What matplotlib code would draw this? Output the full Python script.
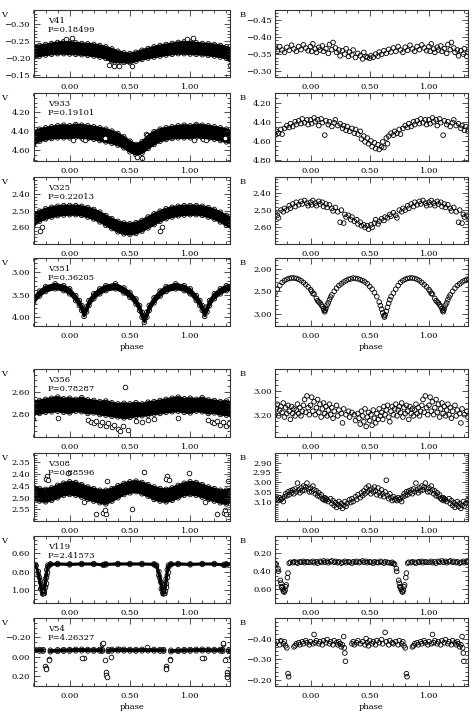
import numpy as np
import matplotlib
matplotlib.use("Agg")
import matplotlib.pyplot as plt
from matplotlib.ticker import FixedLocator, MultipleLocator, AutoMinorLocator, FuncFormatter

plt.rcParams["font.family"] = "DejaVu Serif"
plt.rcParams["font.size"] = 6

# ---------------------------------------------------------------
# V light curves: dense bands, given as upper/lower envelope of the
# points over one cycle (phase 0..1), plus the stray points
# ---------------------------------------------------------------
grid = [0.00, 0.05, 0.10, 0.15, 0.20, 0.25, 0.30, 0.35, 0.40, 0.45,
        0.50, 0.55, 0.60, 0.65, 0.70, 0.75, 0.80, 0.85, 0.90, 0.95]

v41_top = [-0.246, -0.244, -0.242, -0.241, -0.239, -0.236, -0.232, -0.226, -0.219, -0.214,
           -0.212, -0.216, -0.222, -0.227, -0.232, -0.236, -0.239, -0.242, -0.245, -0.247]
v41_bot = [-0.211, -0.210, -0.209, -0.207, -0.205, -0.202, -0.198, -0.188, -0.187, -0.186,
           -0.185, -0.190, -0.195, -0.199, -0.202, -0.205, -0.208, -0.210, -0.212, -0.212]
v41_xph = [0.02, 0.33, 0.37, 0.41, 0.52, 0.97]
v41_xmag = [-0.257, -0.177, -0.175, -0.176, -0.176, -0.256]

v933_top = [4.343, 4.329, 4.336, 4.343, 4.353, 4.364, 4.378, 4.398, 4.423, 4.458,
            4.503, 4.538, 4.510, 4.447, 4.405, 4.378, 4.364, 4.353, 4.343, 4.336]
v933_bot = [4.468, 4.461, 4.468, 4.475, 4.482, 4.496, 4.510, 4.524, 4.544, 4.572,
            4.614, 4.642, 4.628, 4.579, 4.537, 4.503, 4.485, 4.475, 4.468, 4.468]
v933_xph = [0.11, 0.13, 0.29, 0.56, 0.60, 0.63, 0.64, 0.03]
v933_xmag = [4.48, 4.49, 4.47, 4.67, 4.68, 4.43, 4.44, 4.49]

v325_top = [2.471, 2.471, 2.475, 2.483, 2.494, 2.510, 2.530, 2.549, 2.565, 2.575,
            2.579, 2.573, 2.559, 2.539, 2.520, 2.504, 2.490, 2.481, 2.475, 2.471]
v325_bot = [2.525, 2.525, 2.529, 2.539, 2.551, 2.568, 2.588, 2.608, 2.627, 2.639,
            2.643, 2.637, 2.623, 2.604, 2.584, 2.564, 2.549, 2.539, 2.531, 2.527]
v325_xph = [0.75, 0.77]
v325_xmag = [2.62, 2.60]

v351_ph = [0.00, 0.05, 0.08, 0.10, 0.12, 0.14, 0.16, 0.20, 0.25, 0.30, 0.38, 0.45,
           0.50, 0.55, 0.58, 0.60, 0.62, 0.64, 0.66, 0.70, 0.75, 0.80, 0.88, 0.95]
v351_top = [3.365, 3.515, 3.625, 3.735, 3.865, 3.765, 3.625, 3.475, 3.365, 3.295, 3.255, 3.345,
            3.445, 3.590, 3.735, 3.885, 3.995, 3.885, 3.735, 3.565, 3.415, 3.315, 3.255, 3.295]
v351_bot = [3.475, 3.625, 3.735, 3.845, 3.975, 3.875, 3.735, 3.585, 3.475, 3.405, 3.365, 3.455,
            3.555, 3.700, 3.845, 3.995, 4.105, 3.995, 3.845, 3.675, 3.525, 3.425, 3.365, 3.405]
v351_xph = []
v351_xmag = []

v356_top = [2.658, 2.668, 2.653, 2.673, 2.678, 2.688, 2.683, 2.698, 2.708, 2.703,
            2.708, 2.698, 2.708, 2.693, 2.688, 2.678, 2.668, 2.658, 2.648, 2.663]
v356_bot = [2.787, 2.772, 2.777, 2.792, 2.787, 2.802, 2.807, 2.817, 2.822, 2.832,
            2.827, 2.817, 2.812, 2.807, 2.797, 2.792, 2.782, 2.777, 2.772, 2.782]
v356_xph = [0.15, 0.18, 0.20, 0.22, 0.25, 0.27, 0.30, 0.32, 0.35, 0.37,
            0.40, 0.42, 0.44, 0.46, 0.48, 0.55, 0.60, 0.65, 0.70, 0.90]
v356_xmag = [2.85, 2.87, 2.88, 2.86, 2.89, 2.87, 2.90, 2.88, 2.91, 2.89,
             2.93, 2.95, 2.90, 2.555, 2.94, 2.86, 2.87, 2.85, 2.84, 2.83]

v308_top = [2.433, 2.436, 2.445, 2.455, 2.462, 2.469, 2.469, 2.462, 2.450, 2.440,
            2.433, 2.430, 2.436, 2.445, 2.455, 2.462, 2.465, 2.459, 2.448, 2.439]
v308_bot = [2.487, 2.490, 2.498, 2.508, 2.515, 2.522, 2.527, 2.515, 2.501, 2.487,
            2.480, 2.475, 2.484, 2.494, 2.508, 2.515, 2.518, 2.512, 2.501, 2.490]
v308_xph = [0.99, 0.81, 0.80, 0.82, 0.62, 0.52, 0.22, 0.28, 0.30, 0.31, 0.29, 0.12]
v308_xmag = [2.396, 2.41, 2.42, 2.425, 2.393, 2.55, 2.57, 2.565, 2.57, 2.43, 2.555, 2.52]

v119_ph = [0.00, 0.10, 0.20, 0.28, 0.30, 0.40, 0.50, 0.60, 0.70, 0.72,
           0.74, 0.76, 0.775, 0.79, 0.80, 0.81, 0.82, 0.84, 0.90]
v119_top = [0.716, 0.712, 0.712, 0.722, 0.716, 0.712, 0.712, 0.712, 0.716, 0.730,
            0.800, 0.920, 1.000, 0.970, 0.880, 0.780, 0.730, 0.716, 0.712]
v119_bot = [0.726, 0.722, 0.722, 0.732, 0.726, 0.722, 0.722, 0.722, 0.726, 0.740,
            0.840, 0.990, 1.045, 1.040, 0.960, 0.840, 0.750, 0.726, 0.722]
v119_xph = [0.745, 0.752, 0.762, 0.768, 0.775, 0.782, 0.788, 0.795, 0.800, 0.806, 0.812]
v119_xmag = [0.86, 0.90, 0.97, 1.01, 1.04, 1.03, 1.00, 0.97, 0.93, 0.86, 0.80]

v54_ph = [0.00, 0.05, 0.10, 0.15, 0.20, 0.25, 0.27, 0.29, 0.32, 0.35, 0.40, 0.45,
          0.50, 0.55, 0.60, 0.65, 0.70, 0.75, 0.78, 0.81, 0.84, 0.90, 0.95]
v54_top = [-0.075, -0.077, -0.078, -0.076, -0.075, -0.076, -0.074, np.nan, -0.072, -0.076, -0.078, -0.077,
           -0.076, -0.075, -0.077, -0.078, -0.076, -0.075, -0.074, np.nan, -0.068, -0.072, -0.074]
v54_bot = [-0.060, -0.062, -0.063, -0.061, -0.060, -0.061, -0.059, np.nan, -0.057, -0.061, -0.063, -0.062,
           -0.061, -0.060, -0.062, -0.063, -0.061, -0.060, -0.059, np.nan, -0.053, -0.057, -0.059]
v54_xph = [0.797, 0.800, 0.803, 0.830, 0.832, 0.270, 0.275, 0.290, 0.303, 0.305,
           0.307, 0.117, 0.100, 0.339, 0.640, 0.410]
v54_xmag = [0.09, 0.11, 0.12, 0.02, 0.03, -0.13, -0.145, 0.028, 0.16, 0.185,
            0.205, 0.007, 0.007, 0.0, -0.097, -0.085]

# ---------------------------------------------------------------
# B light curves: individual points over one cycle
# ---------------------------------------------------------------
b41_ph = [0.00, 0.01, 0.02, 0.04, 0.05, 0.07, 0.08, 0.10, 0.11, 0.13, 0.15, 0.16, 0.18, 0.19,
          0.21, 0.22, 0.24, 0.25, 0.27, 0.29, 0.30, 0.32, 0.33, 0.35, 0.36, 0.38, 0.40, 0.42,
          0.44, 0.45, 0.47, 0.48, 0.50, 0.51, 0.53, 0.55, 0.57, 0.58, 0.60, 0.62, 0.64, 0.66,
          0.68, 0.70, 0.72, 0.74, 0.76, 0.78, 0.80, 0.82, 0.84, 0.86, 0.88, 0.90, 0.92, 0.94,
          0.96, 0.98]
b41_mag = [-0.372, -0.358, -0.380, -0.365, -0.355, -0.370, -0.362, -0.374, -0.358, -0.366,
           -0.352, -0.378, -0.363, -0.384, -0.368, -0.355, -0.362, -0.345, -0.360, -0.350,
           -0.366, -0.343, -0.356, -0.348, -0.362, -0.340, -0.352, -0.345, -0.336, -0.355,
           -0.343, -0.340, -0.338, -0.345, -0.341, -0.350, -0.344, -0.356, -0.349, -0.360,
           -0.352, -0.364, -0.356, -0.368, -0.358, -0.372, -0.362, -0.355, -0.370, -0.361,
           -0.376, -0.365, -0.358, -0.372, -0.363, -0.377, -0.368, -0.360]

b933_ph = [0.00, 0.01, 0.03, 0.04, 0.06, 0.07, 0.09, 0.10, 0.12, 0.13, 0.15, 0.16, 0.18, 0.20,
           0.21, 0.23, 0.25, 0.27, 0.28, 0.30, 0.31, 0.33, 0.35, 0.37, 0.38, 0.40, 0.42, 0.43,
           0.45, 0.46, 0.48, 0.49, 0.51, 0.52, 0.54, 0.55, 0.57, 0.58, 0.60, 0.61, 0.62, 0.64,
           0.65, 0.66, 0.68, 0.70, 0.71, 0.73, 0.75, 0.76, 0.78, 0.80, 0.82, 0.83, 0.85, 0.87,
           0.88, 0.90, 0.92, 0.93, 0.95, 0.97, 0.98]
b933_mag = [4.38, 4.42, 4.36, 4.40, 4.38, 4.44, 4.37, 4.41, 4.54, 4.39, 4.43, 4.40, 4.45, 4.41,
            4.38, 4.44, 4.42, 4.47, 4.44, 4.49, 4.45, 4.50, 4.47, 4.52, 4.48, 4.53, 4.50, 4.58,
            4.55, 4.61, 4.57, 4.63, 4.60, 4.66, 4.62, 4.68, 4.64, 4.69, 4.66, 4.61, 4.67, 4.57,
            4.63, 4.55, 4.52, 4.54, 4.50, 4.52, 4.48, 4.53, 4.47, 4.44, 4.46, 4.42, 4.45, 4.40,
            4.43, 4.39, 4.42, 4.37, 4.41, 4.38, 4.43]

b325_ph = [0.00, 0.01, 0.02, 0.04, 0.05, 0.07, 0.08, 0.10, 0.11, 0.13, 0.14, 0.16, 0.18, 0.19,
           0.21, 0.23, 0.25, 0.26, 0.28, 0.29, 0.30, 0.32, 0.34, 0.35, 0.37, 0.39, 0.40, 0.42,
           0.43, 0.45, 0.46, 0.48, 0.49, 0.51, 0.52, 0.54, 0.55, 0.57, 0.58, 0.60, 0.62, 0.63,
           0.65, 0.67, 0.68, 0.70, 0.72, 0.73, 0.75, 0.77, 0.78, 0.80, 0.82, 0.83, 0.85, 0.87,
           0.88, 0.90, 0.92, 0.93, 0.95, 0.97, 0.98]
b325_mag = [2.455, 2.470, 2.445, 2.460, 2.475, 2.450, 2.465, 2.455, 2.480, 2.465, 2.485, 2.470,
            2.490, 2.505, 2.485, 2.510, 2.570, 2.500, 2.575, 2.525, 2.540, 2.530, 2.555, 2.540,
            2.565, 2.555, 2.580, 2.570, 2.590, 2.585, 2.600, 2.590, 2.610, 2.585, 2.600, 2.575,
            2.555, 2.580, 2.565, 2.550, 2.560, 2.540, 2.545, 2.525, 2.535, 2.515, 2.530, 2.545,
            2.500, 2.510, 2.490, 2.500, 2.475, 2.490, 2.465, 2.480, 2.455, 2.470, 2.450, 2.465,
            2.445, 2.460, 2.475]

b351_ph = [0.00, 0.01, 0.02, 0.03, 0.05, 0.06, 0.07, 0.08, 0.09, 0.10, 0.11, 0.115, 0.12, 0.125,
           0.13, 0.14, 0.15, 0.16, 0.17, 0.18, 0.20, 0.22, 0.24, 0.26, 0.28, 0.30, 0.32, 0.34,
           0.36, 0.38, 0.40, 0.42, 0.44, 0.46, 0.48, 0.50, 0.52, 0.54, 0.56, 0.58, 0.59, 0.60,
           0.61, 0.62, 0.625, 0.63, 0.64, 0.65, 0.66, 0.67, 0.68, 0.70, 0.72, 0.74, 0.76, 0.78,
           0.80, 0.82, 0.84, 0.86, 0.88, 0.90, 0.92, 0.94, 0.96, 0.98]
b351_mag = [2.46, 2.50, 2.55, 2.56, 2.66, 2.71, 2.74, 2.76, 2.80, 2.84, 2.89, 2.93, 2.96, 2.92,
            2.88, 2.81, 2.76, 2.69, 2.63, 2.58, 2.50, 2.43, 2.37, 2.33, 2.29, 2.26, 2.23, 2.22,
            2.20, 2.21, 2.22, 2.24, 2.26, 2.29, 2.33, 2.39, 2.45, 2.53, 2.62, 2.74, 2.82, 2.90,
            2.98, 3.05, 3.08, 3.03, 2.95, 2.86, 2.77, 2.69, 2.62, 2.54, 2.45, 2.37, 2.30, 2.26,
            2.23, 2.21, 2.20, 2.20, 2.21, 2.23, 2.26, 2.30, 2.35, 2.40]

b356_ph = [0.00, 0.01, 0.02, 0.03, 0.04, 0.05, 0.06, 0.07, 0.08, 0.09, 0.10, 0.11, 0.12, 0.13,
           0.14, 0.15, 0.16, 0.17, 0.18, 0.19, 0.20, 0.22, 0.23, 0.24, 0.26, 0.27, 0.28, 0.30,
           0.32, 0.33, 0.35, 0.37, 0.38, 0.40, 0.41, 0.42, 0.43, 0.44, 0.45, 0.46, 0.47, 0.48,
           0.49, 0.50, 0.51, 0.52, 0.53, 0.54, 0.55, 0.56, 0.57, 0.58, 0.59, 0.60, 0.61, 0.62,
           0.63, 0.64, 0.65, 0.66, 0.67, 0.68, 0.69, 0.70, 0.71, 0.72, 0.73, 0.74, 0.75, 0.76,
           0.77, 0.78, 0.79, 0.80, 0.81, 0.82, 0.83, 0.84, 0.85, 0.86, 0.87, 0.88, 0.89, 0.90,
           0.91, 0.92, 0.93, 0.94, 0.95, 0.96, 0.97, 0.98, 0.99]
b356_mag = [3.12, 3.05, 3.17, 3.09, 3.20, 3.14, 3.07, 3.18, 3.11, 3.22, 3.15, 3.10, 3.19, 3.13,
            3.21, 3.16, 3.11, 3.20, 3.14, 3.23, 3.17, 3.12, 3.21, 3.16, 3.19, 3.27, 3.15, 3.20,
            3.17, 3.22, 3.18, 3.20, 3.25, 3.19, 3.23, 3.28, 3.17, 3.21, 3.26, 3.15, 3.30, 3.22,
            3.18, 3.25, 3.20, 3.29, 3.16, 3.23, 3.27, 3.19, 3.24, 3.15, 3.21, 3.18, 3.24, 3.13,
            3.20, 3.16, 3.12, 3.22, 3.26, 3.17, 3.13, 3.20, 3.15, 3.11, 3.21, 3.16, 3.13, 3.18,
            3.10, 3.22, 3.14, 3.19, 3.12, 3.17, 3.24, 3.13, 3.19, 3.15, 3.21, 3.16, 3.11, 3.19,
            3.14, 3.21, 3.17, 3.12, 3.07, 3.18, 3.04, 3.14, 3.20]

b308_ph = [0.00, 0.01, 0.02, 0.03, 0.04, 0.05, 0.06, 0.07, 0.08, 0.09, 0.10, 0.11, 0.12, 0.125,
           0.13, 0.14, 0.15, 0.17, 0.18, 0.19, 0.20, 0.21, 0.22, 0.23, 0.24, 0.25, 0.26, 0.27,
           0.28, 0.29, 0.30, 0.31, 0.33, 0.34, 0.35, 0.36, 0.38, 0.39, 0.40, 0.42, 0.43, 0.44,
           0.45, 0.46, 0.47, 0.48, 0.49, 0.50, 0.51, 0.52, 0.53, 0.54, 0.55, 0.56, 0.57, 0.58,
           0.59, 0.60, 0.61, 0.62, 0.63, 0.64, 0.65, 0.66, 0.67, 0.68, 0.69, 0.70, 0.71, 0.72,
           0.73, 0.74, 0.75, 0.76, 0.77, 0.78, 0.79, 0.80, 0.81, 0.82, 0.83, 0.84, 0.85, 0.86,
           0.87, 0.88, 0.89, 0.90, 0.91, 0.92, 0.93, 0.94, 0.95, 0.96, 0.97, 0.98, 0.99]
b308_mag = [3.030, 3.050, 3.020, 3.040, 3.060, 3.045, 3.070, 3.055, 3.075, 3.065, 3.085, 3.090,
            3.080, 3.095, 3.085, 3.090, 3.100, 3.085, 3.110, 3.095, 3.120, 3.105, 3.130, 3.115,
            3.100, 3.125, 3.110, 3.135, 3.120, 3.100, 3.125, 3.110, 3.090, 3.105, 3.085, 3.100,
            3.075, 3.090, 3.065, 3.080, 3.055, 3.070, 3.045, 3.060, 3.030, 3.050, 3.020, 3.040,
            3.060, 3.035, 3.050, 3.025, 3.045, 3.065, 3.030, 3.055, 3.070, 3.040, 3.060, 3.075,
            3.050, 2.990, 3.070, 3.085, 3.060, 3.080, 3.095, 3.075, 3.090, 3.085, 3.095, 3.080,
            3.090, 3.085, 3.100, 3.075, 3.060, 3.070, 3.050, 3.065, 3.045, 3.055, 3.040, 3.060,
            3.035, 3.050, 3.005, 3.040, 3.055, 3.030, 3.045, 3.020, 3.040, 3.025, 3.005, 3.035,
            3.050]

b119_ph = [0.00, 0.02, 0.03, 0.05, 0.06, 0.08, 0.09, 0.11, 0.12, 0.14, 0.15, 0.17, 0.18, 0.20,
           0.21, 0.23, 0.24, 0.26, 0.27, 0.29, 0.30, 0.32, 0.33, 0.35, 0.36, 0.38, 0.39, 0.41,
           0.42, 0.44, 0.45, 0.47, 0.48, 0.50, 0.51, 0.53, 0.54, 0.56, 0.57, 0.59, 0.60, 0.62,
           0.63, 0.65, 0.66, 0.68, 0.69, 0.70, 0.71, 0.725, 0.728, 0.745, 0.750, 0.755, 0.760,
           0.765, 0.772, 0.778, 0.785, 0.790, 0.795, 0.805, 0.810, 0.82, 0.83, 0.85, 0.86, 0.88,
           0.89, 0.91, 0.92, 0.94, 0.95, 0.97, 0.98]
b119_mag = [0.300, 0.290, 0.305, 0.295, 0.310, 0.290, 0.300, 0.285, 0.300, 0.290, 0.305, 0.295,
            0.285, 0.300, 0.290, 0.305, 0.295, 0.310, 0.300, 0.290, 0.305, 0.295, 0.300, 0.310,
            0.295, 0.300, 0.290, 0.305, 0.295, 0.285, 0.300, 0.290, 0.305, 0.295, 0.300, 0.310,
            0.295, 0.300, 0.305, 0.290, 0.300, 0.310, 0.295, 0.300, 0.305, 0.310, 0.300, 0.315,
            0.320, 0.370, 0.400, 0.500, 0.530, 0.570, 0.580, 0.600, 0.620, 0.630, 0.610, 0.570,
            0.550, 0.470, 0.420, 0.310, 0.300, 0.305, 0.295, 0.300, 0.310, 0.295, 0.300, 0.290,
            0.305, 0.295, 0.300]

b54_ph = [0.00, 0.02, 0.03, 0.04, 0.05, 0.07, 0.08, 0.10, 0.11, 0.13, 0.14, 0.16, 0.17, 0.19,
          0.20, 0.22, 0.23, 0.24, 0.25, 0.26, 0.27, 0.28, 0.285, 0.29, 0.295, 0.35, 0.36, 0.37,
          0.39, 0.40, 0.42, 0.44, 0.46, 0.47, 0.48, 0.49, 0.50, 0.52, 0.53, 0.55, 0.56, 0.58,
          0.60, 0.61, 0.63, 0.64, 0.66, 0.67, 0.69, 0.70, 0.72, 0.74, 0.75, 0.77, 0.78, 0.79,
          0.80, 0.81, 0.815, 0.86, 0.87, 0.88, 0.90, 0.91, 0.93, 0.94, 0.96, 0.97, 0.99]
b54_mag = [-0.385, -0.375, -0.420, -0.380, -0.390, -0.375, -0.385, -0.370, -0.390, -0.380,
           -0.395, -0.375, -0.385, -0.370, -0.390, -0.380, -0.370, -0.385, -0.375, -0.360,
           -0.370, -0.410, -0.355, -0.330, -0.290, -0.375, -0.385, -0.370, -0.380, -0.390,
           -0.375, -0.385, -0.370, -0.400, -0.380, -0.365, -0.390, -0.375, -0.385, -0.370,
           -0.390, -0.380, -0.395, -0.375, -0.430, -0.385, -0.370, -0.390, -0.380, -0.375,
           -0.385, -0.370, -0.390, -0.375, -0.385, -0.365, -0.355, -0.230, -0.215, -0.360,
           -0.365, -0.375, -0.380, -0.370, -0.385, -0.375, -0.390, -0.380, -0.370]

# star, period, band data, y-limits (inverted), y ticks
v_panels = [
    ("V41", "0.18499", grid, v41_top, v41_bot, v41_xph, v41_xmag, (-0.143, -0.341), [-0.30, -0.25, -0.20, -0.15]),
    ("V933", "0.19101", grid, v933_top, v933_bot, v933_xph, v933_xmag, (4.71, 4.00), [4.20, 4.40, 4.60]),
    ("V325", "0.22013", grid, v325_top, v325_bot, v325_xph, v325_xmag, (2.70, 2.30), [2.40, 2.50, 2.60]),
    ("V351", "0.36205", v351_ph, v351_top, v351_bot, v351_xph, v351_xmag, (4.19, 2.68), [3.00, 3.50, 4.00]),
    ("V356", "0.78287", grid, v356_top, v356_bot, v356_xph, v356_xmag, (3.00, 2.40), [2.60, 2.80]),
    ("V308", "0.88596", grid, v308_top, v308_bot, v308_xph, v308_xmag, (2.60, 2.31), [2.35, 2.40, 2.45, 2.50, 2.55]),
    ("V119", "2.41573", v119_ph, v119_top, v119_bot, v119_xph, v119_xmag, (1.145, 0.41), [0.60, 0.80, 1.00]),
    ("V54", "4.26327", v54_ph, v54_top, v54_bot, v54_xph, v54_xmag, (0.30, -0.40), [-0.20, 0.00, 0.20]),
]
b_panels = [
    (b41_ph, b41_mag, (-0.283, -0.479), [-0.45, -0.40, -0.35, -0.30]),
    (b933_ph, b933_mag, (4.81, 4.10), [4.20, 4.40, 4.60, 4.80]),
    (b325_ph, b325_mag, (2.695, 2.31), [2.40, 2.50, 2.60]),
    (b351_ph, b351_mag, (3.28, 1.75), [2.00, 2.50, 3.00]),
    (b356_ph, b356_mag, (3.39, 2.81), [3.00, 3.20]),
    (b308_ph, b308_mag, (3.20, 2.85), [2.90, 2.95, 3.00, 3.05, 3.10]),
    (b119_ph, b119_mag, (0.75, 0.01), [0.20, 0.40, 0.60]),
    (b54_ph, b54_mag, (-0.17, -0.50), [-0.40, -0.30, -0.20]),
]

# panel rows in pixels (top, bottom) of a 474x713 figure
rows_px = [(10, 77), (93, 161), (177, 244), (258, 326),
           (369, 437), (453, 521), (536, 603), (618, 686)]
W, H = 474.0, 713.0
XLIM = (-0.30, 1.33)
MS = 11      # marker area (pt^2)
MLW = 0.6    # marker edge width


def wrap(ph, *vals):
    # repeat one cycle at phase-1, phase, phase+1
    ph = np.asarray(ph, float)
    out = [np.concatenate([ph - 1, ph, ph + 1])]
    for v in vals:
        out.append(np.tile(np.asarray(v, float), 3))
    return out


fmt = FuncFormatter(lambda v, p: f"{v:.2f}".replace("-", "\u2212"))


def style(ax, ylim, yticks, band, xlabel):
    ax.set_xlim(*XLIM)
    ax.set_ylim(*ylim)
    ax.xaxis.set_major_locator(FixedLocator([0.0, 0.5, 1.0]))
    ax.xaxis.set_minor_locator(MultipleLocator(0.1))
    ax.xaxis.set_major_formatter(FuncFormatter(lambda v, p: f"{v:.2f}"))
    ax.yaxis.set_major_locator(FixedLocator(yticks))
    ax.yaxis.set_minor_locator(AutoMinorLocator())
    ax.yaxis.set_major_formatter(fmt)
    ax.tick_params(which="both", direction="in", top=True, right=True,
                   width=0.6, color="#333333", labelsize=6)
    ax.tick_params(which="major", length=4)
    ax.tick_params(which="minor", length=2)
    ax.tick_params(axis="x", pad=4.2)
    ax.tick_params(axis="y", pad=2.5)
    for s in ax.spines.values():
        s.set_linewidth(0.8)
        s.set_color("#333333")
    ax.text(-0.15 if band == "V" else -0.167, 0.93, band, transform=ax.transAxes,
            ha="center", va="center", fontsize=6)
    if xlabel:
        ax.set_xlabel("phase", fontsize=6, labelpad=2)


fig = plt.figure(figsize=(W / 100, H / 100), dpi=100)

for i, (top_px, bot_px) in enumerate(rows_px):
    bottom = 1 - bot_px / H
    height = (bot_px - top_px) / H
    last = i in (3, 7)

    # ---- V column ----
    name, per, ph, top, bot, xph, xmag, ylim, yticks = v_panels[i]
    ax = fig.add_axes([33.5 / W, bottom, 196.5 / W, height])
    x, t, b = wrap(ph, top, bot)
    ok = ~np.isnan(t)
    ax.fill_between(x, t, b, where=ok, color="k", lw=0)
    ax.plot(x, t, color="k", lw=1.6)
    ax.plot(x, b, color="k", lw=1.6)
    ax.scatter(x, t, s=MS, facecolors="none", edgecolors="k", linewidths=MLW)
    ax.scatter(x, b, s=MS, facecolors="none", edgecolors="k", linewidths=MLW)
    if len(xph):
        xo, mo = wrap(xph, xmag)
        ax.scatter(xo, mo, s=MS, facecolors="white", edgecolors="k", linewidths=MLW)
    ax.text(0.072, 0.84, name, transform=ax.transAxes, ha="left", va="center", fontsize=6)
    ax.text(0.072, 0.70, "P=" + per, transform=ax.transAxes, ha="left", va="center", fontsize=6)
    style(ax, ylim, yticks, "V", last)

    # ---- B column ----
    bph, bmag, ylim, yticks = b_panels[i]
    ax = fig.add_axes([275 / W, bottom, 193 / W, height])
    xb, mb = wrap(bph, bmag)
    ax.scatter(xb, mb, s=MS, facecolors="none", edgecolors="k", linewidths=MLW)
    style(ax, ylim, yticks, "B", last)

fig.savefig("out.png", dpi=100)
